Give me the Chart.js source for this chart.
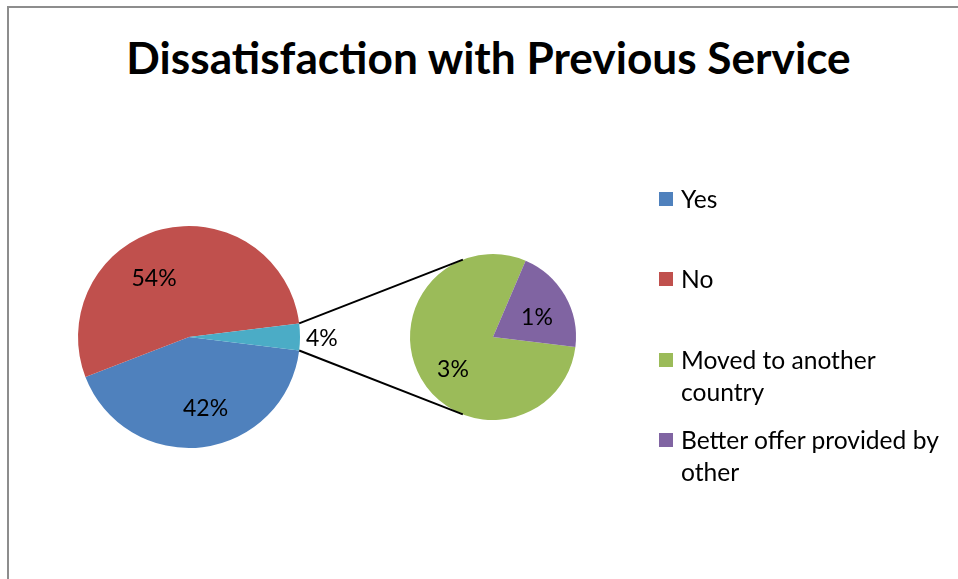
<!DOCTYPE html>
<html lang="en">
<head>
<meta charset="utf-8">
<title>Dissatisfaction with Previous Service</title>
<script src="https://cdn.jsdelivr.net/npm/chart.js@4.4.1/dist/chart.umd.min.js"></script>
<style>
    html, body { margin: 0; padding: 0; }
    body { width: 958px; height: 579px; overflow: hidden; background: #fff; position: relative; font-family: Lato, 'Open Sans', sans-serif; color: #000; }
    #moldura { position: absolute; left: 7px; top: 6px; width: 1000px; height: 700px; border-left: 2px solid #8d8d8d; border-top: 2px solid #8d8d8d; }
    #titulo { position: absolute; left: 0; top: 30px; width: 977px; text-align: center; font-weight: 700; font-size: 44.2px; line-height: 1.2; white-space: nowrap; }
    canvas { position: absolute; left: 0; top: 0; }
    .item { position: absolute; left: 659px; width: 292px; font-size: 24.6px; line-height: 32px; }
    .quad { position: absolute; left: 0; top: 9px; width: 14px; height: 14px; }
    .txt { display: block; margin-left: 22px; }
</style>
</head>
<body>
<div id="moldura"></div>
<div id="titulo"></div>
<canvas id="grafPrincipal" width="958" height="579"></canvas>
<canvas id="grafSecundario" width="958" height="579"></canvas>
<div id="legenda"></div>

<script>
const titulo = 'Dissatisfaction with Previous Service'

// pizza principal (valores em %)
const categoriasPrincipal = ['Yes', 'No', 'Other']
const valoresPrincipal = [42.2, 53.9, 3.9]
const coresPrincipal = ['#4F81BD', '#C0504D', '#4BACC6']

// pizza secundaria (detalhe do "Other")
const categoriasSecundaria = ['Moved to another country', 'Better offer provided by other']
const valoresSecundaria = [3.1, 0.8]
const coresSecundaria = ['#9BBB59', '#8064A2']

// legenda
const itensLegenda = ['Yes', 'No', 'Moved to another country', 'Better offer provided by other']
const coresLegenda = ['#4F81BD', '#C0504D', '#9BBB59', '#8064A2']
const topoLegenda = [183, 263, 344, 424]

const totalGeral = valoresPrincipal.reduce((a, b) => a + b, 0)

document.getElementById('titulo').textContent = titulo

const legenda = document.getElementById('legenda')
itensLegenda.forEach((nome, i) => {
    const item = document.createElement('div')
    item.className = 'item'
    item.style.top = topoLegenda[i] + 'px'
    const quad = document.createElement('span')
    quad.className = 'quad'
    quad.style.background = coresLegenda[i]
    const txt = document.createElement('span')
    txt.className = 'txt'
    txt.textContent = nome
    item.appendChild(quad)
    item.appendChild(txt)
    legenda.appendChild(item)
})

// rotulos de porcentagem em cada fatia
const pluginRotulos = {
    id: 'rotulos',
    afterDatasetsDraw(chart, args, opts) {
        const ctx = chart.ctx
        const meta = chart.getDatasetMeta(0)
        const valores = chart.data.datasets[0].data
        ctx.save()
        ctx.font = opts.tamanho + 'px Lato'
        ctx.fillStyle = '#000'
        ctx.textBaseline = 'middle'
        meta.data.forEach((arco, i) => {
            const txt = Math.round(valores[i] / totalGeral * 100) + '%'
            const meio = (arco.startAngle + arco.endAngle) / 2
            if (opts.fora[i]) {
                ctx.textAlign = 'left'
                ctx.fillText(txt, arco.x + arco.outerRadius * Math.cos(meio) + 6, arco.y + arco.outerRadius * Math.sin(meio) + 2)
            } else {
                const ang = meio + opts.desvio[i] * Math.PI / 180
                const r = arco.outerRadius * opts.raio[i]
                ctx.textAlign = 'center'
                ctx.fillText(txt, arco.x + r * Math.cos(ang), arco.y + r * Math.sin(ang))
            }
        })
        ctx.restore()
    }
}

// linhas que ligam a fatia "Other" a pizza secundaria
const pluginLigacao = {
    id: 'ligacao',
    afterDatasetsDraw(chart) {
        const outros = graficoPrincipal.getDatasetMeta(0).data[2]
        const sec = chart.getDatasetMeta(0).data[0]
        const R = sec.outerRadius
        const ctx = chart.ctx
        const pontas = [[outros.startAngle, 1], [outros.endAngle, -1]]
        ctx.save()
        ctx.strokeStyle = '#000'
        ctx.lineWidth = 2
        pontas.forEach(([a, lado]) => {
            const px = outros.x + outros.outerRadius * Math.cos(a)
            const py = outros.y + outros.outerRadius * Math.sin(a)
            const dx = px - sec.x
            const dy = py - sec.y
            const d = Math.hypot(dx, dy)
            const t = Math.atan2(dy, dx) + lado * Math.acos(R / d)
            ctx.beginPath()
            ctx.moveTo(px, py)
            ctx.lineTo(sec.x + R * Math.cos(t), sec.y + R * Math.sin(t))
            ctx.stroke()
        })
        ctx.restore()
    }
}

const graficoPrincipal = new Chart(document.getElementById('grafPrincipal'), {
    type: 'pie',
    data: {
        labels: categoriasPrincipal,
        datasets: [{
            data: valoresPrincipal,
            backgroundColor: coresPrincipal,
            borderWidth: 0
        }]
    },
    options: {
        responsive: false,
        animation: false,
        events: [],
        rotation: 97,
        layout: { padding: { left: 78, right: 658, top: 226, bottom: 131 } },
        plugins: {
            legend: { display: false },
            tooltip: { enabled: false },
            rotulos: { tamanho: 23, fora: [false, false, true], desvio: [-6, -17, 0], raio: [0.66, 0.61, 0] }
        }
    },
    plugins: [pluginRotulos]
})

const graficoSecundario = new Chart(document.getElementById('grafSecundario'), {
    type: 'pie',
    data: {
        labels: categoriasSecundaria,
        datasets: [{
            data: valoresSecundaria,
            backgroundColor: coresSecundaria,
            borderWidth: 0
        }]
    },
    options: {
        responsive: false,
        animation: false,
        events: [],
        rotation: 97,
        layout: { padding: { left: 410, right: 382, top: 254, bottom: 159 } },
        plugins: {
            legend: { display: false },
            tooltip: { enabled: false },
            rotulos: { tamanho: 23, fora: [false, false], desvio: [-9, 6], raio: [0.62, 0.58] }
        }
    },
    plugins: [pluginRotulos, pluginLigacao]
})
</script>
</body>
</html>
